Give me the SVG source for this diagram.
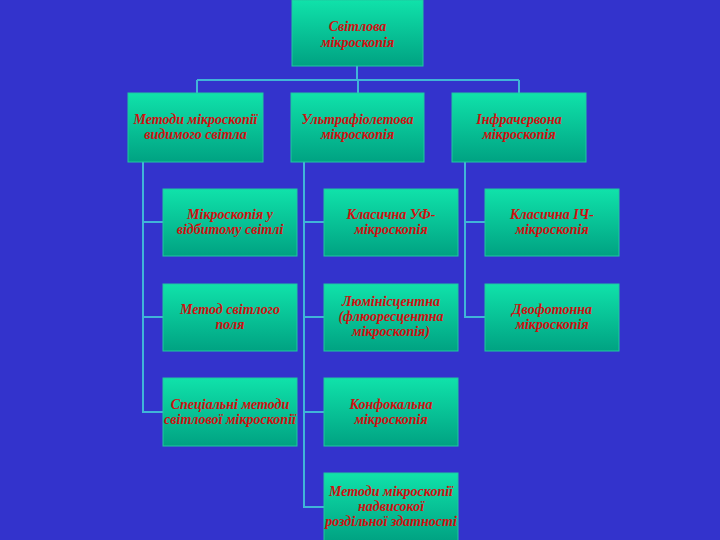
<svg xmlns="http://www.w3.org/2000/svg" width="720" height="540" viewBox="0 0 720 540">
<defs>
<linearGradient id="g" x1="0" y1="0" x2="0" y2="1">
<stop offset="0" stop-color="#10E2AA"/>
<stop offset="1" stop-color="#00A282"/>
</linearGradient>
<style>
.box{fill:url(#g);stroke:#20C8A0;stroke-width:1}
.t{font-family:"Liberation Serif","Times New Roman",serif;font-style:italic;font-weight:bold;font-size:14px;fill:#D01010;text-anchor:middle}
.c{fill:none;stroke:#40B4D8;stroke-width:2}
</style>
</defs>
<rect width="720" height="540" fill="#3333CC"/>
<g id="connectors">
<path class="c" d="M357,66 V80 M197,80 H519 M197,80 V93 M358,80 V93 M519,80 V93"/>
<path class="c" d="M143,162 V412 H163 M143,222 H163 M143,317 H163"/>
<path class="c" d="M304,162 V507 H324 M304,222 H324 M304,317 H324 M304,412 H324"/>
<path class="c" d="M465,162 V317 H485 M465,222 H485"/>
</g>
<g id="n_top"><rect class="box" x="292" y="0" width="131" height="66"/><text class="t" x="357.5" y="31">Світлова</text><text class="t" x="357.5" y="47">мікроскопія</text></g>
<g id="n_vis"><rect class="box" x="128" y="93" width="135" height="69"/><text class="t" x="195.5" y="124">Методи мікроскопії</text><text class="t" x="195.5" y="139">видимого світла</text></g>
<g id="n_uv"><rect class="box" x="291" y="93" width="133" height="69"/><text class="t" x="357.5" y="124">Ультрафіолетова</text><text class="t" x="357.5" y="139">мікроскопія</text></g>
<g id="n_ir"><rect class="box" x="452" y="93" width="134" height="69"/><text class="t" x="519" y="124">Інфрачервона</text><text class="t" x="519" y="139">мікроскопія</text></g>
<g id="n_refl"><rect class="box" x="163" y="189" width="134" height="67"/><text class="t" x="230" y="219">Мікроскопія у</text><text class="t" x="230" y="234">відбитому світлі</text></g>
<g id="n_bright"><rect class="box" x="163" y="284" width="134" height="67"/><text class="t" x="230" y="314">Метод світлого</text><text class="t" x="230" y="329">поля</text></g>
<g id="n_special"><rect class="box" x="163" y="378" width="134" height="68"/><text class="t" x="230" y="409">Спеціальні методи</text><text class="t" x="230" y="424">світлової мікроскопії</text></g>
<g id="n_uvclass"><rect class="box" x="324" y="189" width="134" height="67"/><text class="t" x="391" y="219">Класична УФ-</text><text class="t" x="391" y="234">мікроскопія</text></g>
<g id="n_lum"><rect class="box" x="324" y="284" width="134" height="67"/><text class="t" x="391" y="306">Люмінісцентна</text><text class="t" x="391" y="321">(флюоресцентна</text><text class="t" x="391" y="336">мікроскопія)</text></g>
<g id="n_conf"><rect class="box" x="324" y="378" width="134" height="68"/><text class="t" x="391" y="409">Конфокальна</text><text class="t" x="391" y="424">мікроскопія</text></g>
<g id="n_super"><rect class="box" x="324" y="473" width="134" height="68"/><text class="t" x="391" y="496">Методи мікроскопії</text><text class="t" x="391" y="511">надвисокої</text><text class="t" x="391" y="526">роздільної здатності</text></g>
<g id="n_irclass"><rect class="box" x="485" y="189" width="134" height="67"/><text class="t" x="552" y="219">Класична ІЧ-</text><text class="t" x="552" y="234">мікроскопія</text></g>
<g id="n_twoph"><rect class="box" x="485" y="284" width="134" height="67"/><text class="t" x="552" y="314">Двофотонна</text><text class="t" x="552" y="329">мікроскопія</text></g>
</svg>
